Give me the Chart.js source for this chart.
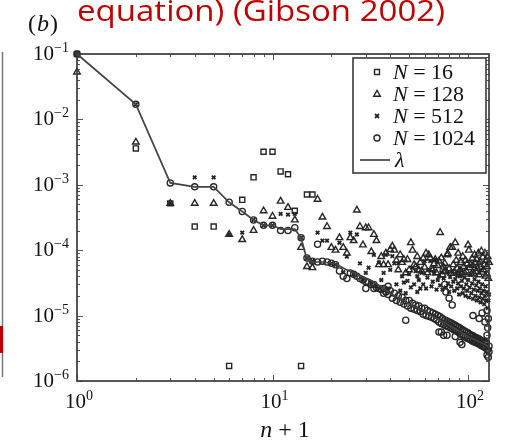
<!DOCTYPE html>
<html>
<head>
<meta charset="utf-8">
<script src="https://cdn.jsdelivr.net/npm/chart.js@4.4.0/dist/chart.umd.min.js"></script>
<style>
html, body { margin: 0; padding: 0; background: #fff; }
#wrap { position: relative; width: 508px; height: 441px; }
</style>
</head>
<body>
<div id="wrap"><canvas id="c" width="508" height="441"></canvas></div>
<script>
// ---------------- DATA : [n + 1, value] ----------------
const lambdaPts = [
  [1,1e-1],[2,1.7e-2],[3,1.07e-3],[4,9.3e-4],[5,9.3e-4],[6,5.4e-4],[7,3.9e-4],[8,2.9e-4],
  [9,2.4e-4],[10,2.4e-4],[11,2.1e-4],[12,2.1e-4],[13,2.1e-4],[14,1.55e-4],[15,7.2e-5],
  [16,6.6e-5],[18,6.6e-5],[21,6.2e-5],[24,5.0e-5],[27,4.3e-5],[31,3.6e-5],[35,2.9e-5],
  [40,2.2e-5],[45,1.8e-5],[50,1.5e-5],[60,1.15e-5],[70,8.8e-6],[80,7.1e-6],[90,5.8e-6],
  [100,4.8e-6],[110,4.2e-6],[120,3.7e-6],[128,3.3e-6]
];

const sq16 = [
  [1,1e-1],[2,3.6e-3],[3,5.2e-4],[4,2.3e-4],[5,2.3e-4],[6,1.7e-6],[7,5.9e-4],[8,1.3e-3],
  [9,3.2e-3],[10,3.2e-3],[11,1.6e-3],[12,1.45e-3],[13,4.0e-4],[14,1.7e-6],[15,7.1e-4],[16,7.1e-4]
];

const tri128 = [
  [1,5.3e-2],[2,4.5e-3],[3,5.2e-4],[4,5.2e-4],[5,5.2e-4],[6,1.74e-4],[7,1.45e-4],[8,2.0e-4],
  [9,4.0e-4],[10,3.3e-4],[11,5.6e-4],[12,4.5e-4],[13,2.9e-4],[14,1.1e-4],[15,5.6e-5],[16,5.4e-5],
  [17,6.0e-4],[18,3.2e-4],[19,2.3e-4],[20,1.1e-4],[21,1.0e-4],[22,1.55e-4],[23,1.1e-4],[24,9.0e-5],
  [25,1.55e-4],[26,1.4e-4],[27,4.1e-4],[28,2.3e-4],[29,1.2e-4],[30,2.2e-4],[31,2.2e-4],[32,9.5e-5],
  [33,1.74e-4],[34,1.4e-4],[35,6.0e-5],[36,8.0e-5],[37,6.0e-5],[38,9.0e-5],[39,6.0e-5],[40,1.02e-4],
  [41,1.15e-4],[42,1.0e-4],[43,7.0e-5],[44,5.0e-5],[45,8.5e-5],[46,6.5e-5],[47,7.2e-5],[48,4.5e-5],
  [49,7.2e-5],[50,5.0e-5],[51,1.3e-4],[52,1.0e-4],[53,6.0e-5],[54,5.6e-5],[55,8.0e-5],[56,5.0e-5],
  [57,6.5e-5],[58,4.8e-5],[59,7.5e-5],[60,5.5e-5],[61,9.0e-5],[62,4.5e-5],[63,8.5e-5],[64,7.6e-5],
  [65,5.2e-5],[66,5.0e-5],[67,6.2e-5],[68,7.2e-5],[69,4.5e-5],[70,5.8e-5],[71,6.8e-5],[72,1.86e-4],
  [73,7.6e-5],[74,4.2e-5],[75,5.5e-5],[76,6.3e-5],[77,4.8e-5],[78,8.5e-5],[79,8.8e-5],[80,5.2e-5],
  [81,1.1e-4],[82,4.4e-5],[83,1.1e-4],[84,6.0e-5],[85,4.6e-5],[86,1.3e-4],[87,7.0e-5],[88,5.3e-5],
  [89,9.0e-5],[90,4.2e-5],[91,5.0e-5],[92,6.5e-5],[93,4.5e-5],[94,8.0e-5],[95,5.6e-5],[96,4.5e-5],
  [97,7.0e-5],[98,4.8e-5],[99,6.2e-5],[100,1.2e-4],[101,1.0e-4],[102,5.4e-5],[103,6.0e-5],[104,4.3e-5],
  [105,7.5e-5],[106,5.8e-5],[107,4.4e-5],[108,8.5e-5],[109,6.4e-5],[110,4.7e-5],[111,7.2e-5],[112,5.2e-5],
  [113,9.0e-5],[114,4.2e-5],[115,6.8e-5],[116,5.5e-5],[117,9.7e-5],[118,4.6e-5],[119,7.8e-5],[120,5.0e-5],
  [121,6.0e-5],[122,9.0e-5],[123,4.0e-5],[124,7.0e-5],[125,5.6e-5],[125,4.3e-5],[126,8.0e-5],[127,3.7e-5],
  [128,6.5e-5]
];

const x512 = [
  [1,1e-1],[2,1.7e-2],[3,5.2e-4],[4,1.3e-3],[5,1.3e-3],[6,1.74e-4],[7,1.86e-4],[8,2.9e-4],
  [9,2.4e-4],[10,2.4e-4],[11,3.6e-4],[12,3.5e-4],[13,3.6e-4],[14,1.55e-4],[15,7.6e-5],[16,6.8e-5],
  [17,1.86e-4],[18,1.4e-4],[19,1.4e-4],[20,6.3e-5],[21,6.0e-5],[22,1.3e-4],[23,4.6e-5],[24,8.0e-5],
  [25,1.86e-4],[26,4.3e-5],[27,1.74e-4],[28,6.3e-5],[29,3.5e-5],[30,4.5e-5],[31,5.4e-5],[32,3.2e-5],
  [33,8.5e-5],[34,2.8e-5],[35,6.5e-5],[36,3.5e-5],[37,4.5e-5],[38,8.5e-5],[39,2.6e-5],[40,5.0e-5],
  [41,8.1e-5],[42,6.3e-5],[43,3.0e-5],[44,6.3e-5],[45,2.4e-5],[46,4.0e-5],[47,3.2e-5],[48,2.2e-5],
  [49,3.4e-5],[50,4.3e-5],[51,2.7e-5],[52,5.4e-5],[53,3.0e-5],[54,4.8e-5],[55,4.0e-5],[55,2.3e-5],
  [56,3.5e-5],[57,2.6e-5],[58,4.5e-5],[59,3.0e-5],[60,6.8e-5],[61,2.6e-5],[62,3.8e-5],[63,5.0e-5],
  [64,6.8e-5],[65,2.8e-5],[66,3.3e-5],[67,4.4e-5],[68,7.2e-5],[69,2.5e-5],[70,3.5e-5],[71,4.0e-5],
  [72,2.9e-5],[73,4.6e-5],[74,2.5e-5],[75,3.7e-5],[76,5.3e-5],[77,2.7e-5],[78,4.5e-5],[79,3.1e-5],
  [80,2.3e-5],[81,3.9e-5],[82,2.8e-5],[83,4.8e-5],[84,3.3e-5],[85,2.4e-5],[86,3.6e-5],[87,4.4e-5],
  [88,2.6e-5],[89,3.1e-5],[90,2.1e-5],[91,4.0e-5],[92,2.8e-5],[93,3.4e-5],[94,2.2e-5],[95,2.6e-5],
  [96,3.8e-5],[97,2.0e-5],[98,3.0e-5],[99,2.4e-5],[100,3.5e-5],[101,1.9e-5],[102,2.7e-5],[103,4.2e-5],
  [104,2.2e-5],[105,3.1e-5],[106,1.8e-5],[107,2.5e-5],[108,3.6e-5],[109,2.0e-5],[110,2.9e-5],[111,1.7e-5],
  [112,2.4e-5],[113,3.3e-5],[114,1.9e-5],[115,2.6e-5],[116,1.6e-5],[117,2.2e-5],[118,3.0e-5],[119,1.8e-5],
  [120,2.4e-5],[121,1.5e-5],[122,2.0e-5],[123,2.8e-5],[124,1.7e-5],[125,2.3e-5],[126,1.3e-5],[127,1.7e-5],
  [128,2.1e-5]
];

const o1024 = [
  [1,1e-1],[2,1.7e-2],[3,1.07e-3],[4,9.3e-4],[5,9.3e-4],[6,5.4e-4],[7,3.9e-4],[8,2.9e-4],
  [9,2.4e-4],[10,2.4e-4],[11,2.0e-4],[12,2.0e-4],[13,2.2e-4],[14,1.55e-4],[15,7.6e-5],[16,6.8e-5],
  [17,1.23e-4],[17,6.6e-5],[18,6.8e-5],[19,6.6e-5],[20,6.3e-5],[21,6.0e-5],[22,4.8e-5],[23,4.0e-5],
  [24,3.7e-5],[25,4.5e-5],[26,4.3e-5],[27,4.0e-5],[28,3.7e-5],[29,3.5e-5],[30,3.3e-5],[30,2.6e-5],
  [31,3.2e-5],[32,3.0e-5],[33,2.6e-5],[33,3.0e-5],[34,2.7e-5],[35,2.6e-5],[36,2.5e-5],[37,2.6e-5],
  [37,2.2e-5],[38,2.3e-5],[39,2.8e-5],[39,2.1e-5],[40,2.4e-5],[41,1.85e-5],[42,2.2e-5],[43,1.7e-5],
  [44,2.0e-5],[45,1.6e-5],[46,1.9e-5],[47,1.5e-5],[48,1.7e-5],[48,8.5e-6],[49,1.4e-5],[50,1.7e-5],
  [51,1.3e-5],[52,1.55e-5],[53,1.25e-5],[54,1.45e-5],[55,1.2e-5],[56,1.4e-5],[57,1.15e-5],[58,1.3e-5],
  [59,1.05e-5],[60,1.3e-5],[61,1.0e-5],[62,1.2e-5],[63,9.8e-6],[64,1.15e-5],[65,9.4e-6],[66,1.1e-5],
  [67,9.0e-6],[68,1.05e-5],[69,8.6e-6],[70,1.0e-5],[71,8.0e-6],[71,5.6e-6],[72,9.6e-6],[73,7.6e-6],
  [73,5.6e-6],[74,9.0e-6],[75,7.3e-6],[75,5.0e-6],[76,8.6e-6],[76,3.0e-5],[77,7.0e-6],[77,2.3e-5],
  [78,8.3e-6],[78,5.0e-6],[79,6.8e-6],[80,8.0e-6],[80,1.85e-5],[81,6.5e-6],[82,7.7e-6],[83,6.3e-6],
  [83,1.45e-5],[84,7.4e-6],[85,6.0e-6],[86,7.1e-6],[86,4.8e-6],[87,5.8e-6],[88,6.8e-6],[89,5.6e-6],
  [90,6.6e-6],[91,5.3e-6],[91,3.9e-6],[92,6.3e-6],[93,5.1e-6],[93,3.6e-6],[94,6.0e-6],[95,4.9e-6],
  [96,5.8e-6],[97,4.7e-6],[98,5.6e-6],[99,4.5e-6],[100,5.4e-6],[101,4.4e-6],[102,5.2e-6],[103,4.3e-6],
  [104,5.0e-6],[105,4.1e-6],[106,4.9e-6],[106,1.0e-5],[107,4.0e-6],[108,4.7e-6],[109,3.9e-6],[110,4.6e-6],
  [111,3.8e-6],[112,4.5e-6],[113,3.7e-6],[114,4.4e-6],[114,9.0e-6],[115,3.6e-6],[116,4.2e-6],[117,3.5e-6],
  [118,4.1e-6],[118,1.1e-5],[119,3.4e-6],[120,4.0e-6],[121,3.3e-6],[122,3.9e-6],[122,8.0e-6],[123,3.2e-6],
  [124,3.8e-6],[125,2.5e-6],[125,5.0e-6],[125,1.2e-5],[126,3.0e-6],[126,6.5e-6],[127,2.3e-6],[127,9.0e-6],
  [128,3.4e-6],[128,2.8e-6]
];

const legendNames = ["16", "128", "512", "1024"];
const xTicks = [1, 10, 100];
const xTickExp = ["0", "1", "2"];
const yTicks = [1e-1, 1e-2, 1e-3, 1e-4, 1e-5, 1e-6];
const yTickExp = ["\u22121", "\u22122", "\u22123", "\u22124", "\u22125", "\u22126"];

// ---------------- STYLE ----------------
const INK = "#262626";
const SERIF = "'Liberation Serif', 'DejaVu Serif', serif";
const toXY = arr => arr.map(p => ({ x: p[0], y: p[1] }));

function drawMarker(ctx, kind, x, y) {
  ctx.beginPath();
  if (kind === "rect") {
    ctx.rect(x - 2.5, y - 2.5, 5, 5);
  } else if (kind === "triangle") {
    ctx.moveTo(x, y - 3.6);
    ctx.lineTo(x + 3.3, y + 2.2);
    ctx.lineTo(x - 3.3, y + 2.2);
    ctx.closePath();
  } else if (kind === "crossRot") {
    ctx.moveTo(x - 2, y - 2); ctx.lineTo(x + 2, y + 2);
    ctx.moveTo(x + 2, y - 2); ctx.lineTo(x - 2, y + 2);
  } else {
    ctx.arc(x, y, 3, 0, Math.PI * 2);
  }
  ctx.stroke();
}

function powLabel(ctx, px, baseY, exp, align) {
  ctx.font = "21px " + SERIF;
  const w10 = ctx.measureText("10").width;
  ctx.font = "14px " + SERIF;
  const we = ctx.measureText(exp).width;
  const x0 = align === "right" ? px - w10 - we : px - (w10 + we) / 2;
  ctx.font = "21px " + SERIF;
  ctx.fillText("10", x0, baseY);
  ctx.font = "14px " + SERIF;
  ctx.fillText(exp, x0 + w10, baseY - 8);
}

// frame, inward ticks, labels, legend
const decorPlugin = {
  id: "decor",
  afterDatasetsDraw(chart) {
    const { ctx, chartArea: a, scales: { x, y } } = chart;
    ctx.save();
    ctx.strokeStyle = "#555";
    ctx.lineWidth = 1;
    for (let e = 0; e <= 2; e++) {
      for (let m = 1; m <= 9; m++) {
        const v = m * Math.pow(10, e);
        if (v > x.max) break;
        const px = Math.round(x.getPixelForValue(v)) + 0.5;
        const len = m === 1 ? 6 : 3;
        ctx.beginPath();
        ctx.moveTo(px, a.bottom); ctx.lineTo(px, a.bottom - len);
        ctx.moveTo(px, a.top); ctx.lineTo(px, a.top + len);
        ctx.stroke();
      }
    }
    for (let e = -6; e <= -2; e++) {
      for (let m = 1; m <= 9; m++) {
        const v = m * Math.pow(10, e);
        const py = Math.round(y.getPixelForValue(v)) + 0.5;
        const len = m === 1 ? 6 : 3;
        ctx.beginPath();
        ctx.moveTo(a.left, py); ctx.lineTo(a.left + len, py);
        ctx.moveTo(a.right, py); ctx.lineTo(a.right - len, py);
        ctx.stroke();
      }
    }
    ctx.strokeStyle = "#3a3a3a";
    ctx.lineWidth = 1.7;
    ctx.strokeRect(a.left, a.top, a.right - a.left, a.bottom - a.top);

    // tick labels
    ctx.fillStyle = "#111";
    ctx.textBaseline = "alphabetic";
    ctx.textAlign = "left";
    xTicks.forEach((v, i) => powLabel(ctx, x.getPixelForValue(v) + 2, a.bottom + 27, xTickExp[i], "center"));
    yTicks.forEach((v, i) => powLabel(ctx, 69, y.getPixelForValue(v) + 6, yTickExp[i], "right"));

    // axis title n + 1
    ctx.font = "italic 24px " + SERIF;
    const wn = ctx.measureText("n").width;
    ctx.font = "24px " + SERIF;
    const wr = ctx.measureText(" + 1").width;
    const cx = 285;
    ctx.font = "italic 24px " + SERIF;
    ctx.fillText("n", cx - (wn + wr) / 2, 437);
    ctx.font = "24px " + SERIF;
    ctx.fillText(" + 1", cx - (wn + wr) / 2 + wn, 437);

    // panel tag (b)
    ctx.font = "24px " + SERIF;
    ctx.fillText("(", 28, 31);
    const wp = ctx.measureText("(").width;
    ctx.font = "italic 24px " + SERIF;
    ctx.fillText("b", 29 + wp, 31);
    const wb = ctx.measureText("b").width;
    ctx.font = "24px " + SERIF;
    ctx.fillText(")", 30 + wp + wb, 31);

    // title fragment
    ctx.fillStyle = "#c00000";
    ctx.font = "29px 'Open Sans', 'Noto Sans', sans-serif";
    const title = "equation) (Gibson 2002)";
    const tw = ctx.measureText(title).width;
    ctx.save();
    ctx.translate(77, 21);
    ctx.scale(368 / tw, 1);
    ctx.fillText(title, 0, 0);
    ctx.restore();

    // neighbouring panel edge
    ctx.strokeStyle = "#777";
    ctx.lineWidth = 1.5;
    ctx.beginPath(); ctx.moveTo(2.5, 52); ctx.lineTo(2.5, 377); ctx.stroke();
    ctx.fillStyle = "#c00000";
    ctx.fillRect(0, 326, 3, 27);

    // legend
    ctx.fillStyle = "#fff";
    ctx.fillRect(353, 58, 133, 115);
    ctx.strokeStyle = "#3a3a3a";
    ctx.lineWidth = 1.6;
    ctx.strokeRect(353, 58, 133, 115);
    const kinds = ["rect", "triangle", "crossRot", "circle"];
    ctx.fillStyle = "#111";
    legendNames.forEach((name, i) => {
      const my = 72 + i * 22;
      ctx.strokeStyle = INK;
      ctx.lineWidth = kinds[i] === "crossRot" ? 1.8 : 1.4;
      drawMarker(ctx, kinds[i], 377, my);
      ctx.font = "italic 22px " + SERIF;
      ctx.fillText("N", 393, my + 7);
      const wN = ctx.measureText("N").width;
      ctx.font = "22px " + SERIF;
      ctx.fillText(" = " + name, 393 + wN, my + 7);
    });
    ctx.strokeStyle = "#444";
    ctx.lineWidth = 1.7;
    ctx.beginPath(); ctx.moveTo(360, 160); ctx.lineTo(390, 160); ctx.stroke();
    ctx.font = "italic 22px " + SERIF;
    ctx.fillText("\u03bb", 395, 167);
    ctx.restore();
  }
};

const pointSet = (label, data, style, radius, width) => ({
  label,
  data: toXY(data),
  showLine: false,
  pointStyle: style,
  pointRadius: radius,
  pointBorderWidth: width,
  pointBorderColor: INK,
  pointBackgroundColor: "rgba(0,0,0,0)",
  clip: false
});

new Chart(document.getElementById("c"), {
  type: "scatter",
  data: {
    datasets: [
      {
        label: "lambda",
        data: toXY(lambdaPts),
        showLine: true,
        borderColor: "#444",
        borderWidth: 1.7,
        pointRadius: 0,
        tension: 0,
        clip: false
      },
      pointSet("N = 16", sq16, "rect", 3.6, 1.4),
      pointSet("N = 128", tri128, "triangle", 3.8, 1.4),
      pointSet("N = 512", x512, "crossRot", 2.5, 1.9),
      pointSet("N = 1024", o1024, "circle", 3.1, 1.3)
    ]
  },
  options: {
    responsive: false,
    animation: false,
    devicePixelRatio: 1,
    layout: { padding: { left: 77, top: 54, right: 19, bottom: 60 } },
    plugins: { legend: { display: false }, tooltip: { enabled: false } },
    scales: {
      x: { type: "logarithmic", min: 1, max: 128, display: false },
      y: { type: "logarithmic", min: 1e-6, max: 1e-1, display: false }
    }
  },
  plugins: [decorPlugin]
});
</script>
</body>
</html>
